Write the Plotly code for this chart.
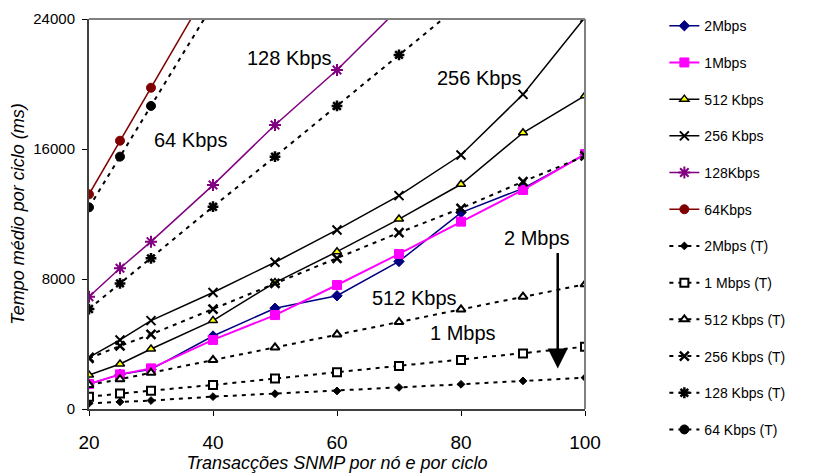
import plotly.graph_objects as go

x = [20, 25, 30, 40, 50, 60, 70, 80, 90, 100]

mbps2 = [1540, 2130, 2440, 4490, 6200, 6970, 9080, 12090, 13580, 15650]
mbps1 = [1540, 2130, 2500, 4250, 5780, 7630, 9540, 11530, 13480, 15690]
kbps512 = [2090, 2770, 3690, 5440, 7780, 9680, 11690, 13830, 17000, 19280]
kbps256 = [3180, 4250, 5440, 7170, 9030, 11020, 13130, 15630, 19360, 24100]
x128 = [20, 25, 30, 40, 50, 60, 70]
kbps128 = [6910, 8660, 10300, 13780, 17480, 20860, 24660]
x64 = [20, 25, 30, 40]
kbps64 = [13210, 16510, 19770, 26330]

mbps2_t = [350, 440, 520, 760, 940, 1110, 1330, 1520, 1730, 1930]
mbps1_t = [760, 960, 1130, 1480, 1870, 2260, 2650, 3020, 3420, 3830]
kbps512_t = [1480, 1830, 2230, 3020, 3790, 4590, 5350, 6130, 6910, 7670]
kbps256_t = [3120, 3880, 4590, 6150, 7730, 9270, 10850, 12350, 13990, 15570]
x128_t = [20, 25, 30, 40, 50, 60, 70, 80]
kbps128_t = [6150, 7730, 9270, 12450, 15530, 18650, 21790, 24910]
x64_t = [20, 25, 30, 40]
kbps64_t = [12410, 15530, 18650, 24890]

y_ticks = [0, 8000, 16000, 24000]
y_tick_text = ["0", "8000", "16000", "24000"]
x_ticks = [20, 40, 60, 80, 100]

fig = go.Figure()

DASH = "4px,5px"

def add(name, xs, ys, color, symbol, size, fill=None, lw=1.5, mlw=1, dash="solid", g=0):
    fig.add_trace(go.Scatter(
        x=xs, y=ys, name=name, mode="lines+markers",
        line=dict(color=color, width=lw, dash=dash),
        marker=dict(symbol=symbol, size=size, color=fill if fill else color,
                    line=dict(color=color, width=mlw)),
        legendgroup=f"g{g}",
    ))

solid = [
    ("2Mbps", x, mbps2, "#000080", "diamond", 8, None, 1.5, 1),
    ("1Mbps", x, mbps1, "#FF00FF", "square", 9, None, 2, 1),
    ("512 Kbps", x, kbps512, "#000000", "triangle-up", 8, "#FFFF00", 1.5, 1.5),
    ("256 Kbps", x, kbps256, "#000000", "x-thin", 9, None, 1.5, 2),
    ("128Kbps", x128, kbps128, "#800080", "asterisk", 10, None, 1.5, 2),
    ("64Kbps", x64, kbps64, "#800000", "circle", 9, None, 1.5, 1),
]
dashed = [
    ("2Mbps (T)", x, mbps2_t, "diamond", 6, "#000000", 1),
    ("1 Mbps (T)", x, mbps1_t, "square", 8, "#FFFFFF", 2),
    ("512 Kbps (T)", x, kbps512_t, "triangle-up", 8, "#FFFFFF", 2),
    ("256 Kbps (T)", x, kbps256_t, "x-thin", 9, "#000000", 2.5),
    ("128 Kbps (T)", x128_t, kbps128_t, "asterisk", 9, "#000000", 2.5),
    ("64 Kbps (T)", x64_t, kbps64_t, "circle", 9, "#000000", 1),
]

for i, (n, xs, ys, c, s, sz, f, lw, mlw) in enumerate(solid):
    add(n, xs, ys, c, s, sz, fill=f, lw=lw, mlw=mlw, dash="solid", g=i)
for i, (n, xs, ys, s, sz, f, mlw) in enumerate(dashed):
    add(n, xs, ys, "#000000", s, sz, fill=f, lw=2, mlw=mlw, dash=DASH, g=6 + i)

labels = [
    ("128 Kbps", 45.2, 21600),
    ("64 Kbps", 30.2, 16550),
    ("256 Kbps", 75.8, 20370),
    ("2 Mbps", 86.6, 10520),
    ("512 Kbps", 65.3, 6830),
    ("1 Mbps", 74.7, 4680),
]
font = "Liberation Sans, Arial, sans-serif"
for txt, ax_, ay_ in labels:
    fig.add_annotation(x=ax_, y=ay_, text=txt, showarrow=False, xanchor="left",
                       yanchor="middle", font=dict(size=20, color="#000000", family=font))

fig.add_annotation(x=95.6, y=2500, ax=95.6, ay=9700, xref="x", yref="y", axref="x", ayref="y",
                   showarrow=True, arrowhead=2, arrowsize=1.6, arrowwidth=2.5, arrowcolor="#000000", text="")

# page body has an 8px margin: compensate so the plot area lands where it should
fig.update_layout(
    width=822, height=475,
    margin=dict(l=81, r=245, t=11, b=74, autoexpand=False),
    plot_bgcolor="white", paper_bgcolor="white",
    font=dict(family=font, color="#000000"),
    showlegend=True,
    legend=dict(x=1.16, y=0.465, xanchor="left", yanchor="middle", font=dict(size=14, family=font),
                tracegroupgap=15.5, bgcolor="rgba(0,0,0,0)", maxheight=475),
    xaxis=dict(range=[20, 100], tickvals=x_ticks, ticks="outside", ticklen=5, tickcolor="#000",
               showgrid=False, zeroline=False, showline=True, linecolor="#404040", linewidth=2,
               automargin=False, ticklabelstandoff=10,
               tickfont=dict(size=19), title=dict(text="<i>Transacções SNMP por nó e por ciclo</i>",
                                                   font=dict(size=18), standoff=4)),
    yaxis=dict(range=[0, 24000], tickvals=y_ticks, ticktext=y_tick_text, ticks="outside", ticklen=5,
               tickcolor="#000", automargin=False, ticklabelstandoff=4,
               showgrid=False, zeroline=False, showline=True, linecolor="#404040", linewidth=2,
               tickfont=dict(size=15), title=dict(text="<i>Tempo médio por ciclo (ms)</i>",
                                                   font=dict(size=18), standoff=6)),
)
fig.add_shape(type="line", xref="paper", yref="paper", x0=0, x1=1, y0=1, y1=1,
              line=dict(color="#808080", width=2))
fig.add_shape(type="line", xref="paper", yref="paper", x0=1, x1=1, y0=0, y1=1,
              line=dict(color="#808080", width=2))

fig.write_html("out.html")
